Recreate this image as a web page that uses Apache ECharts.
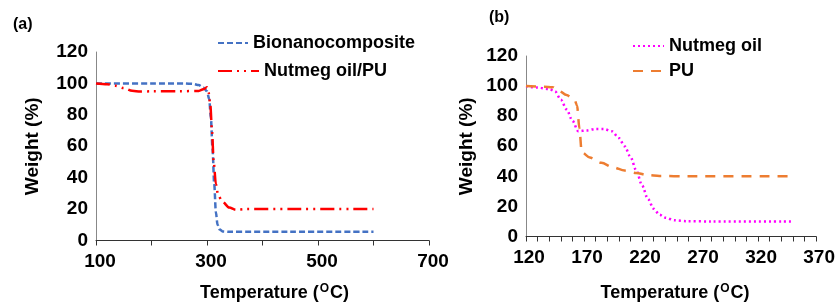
<!DOCTYPE html>
<html>
<head>
<meta charset="utf-8">
<script src="https://cdn.jsdelivr.net/npm/echarts@6/dist/echarts.min.js"></script>
<style>
  html, body { margin: 0; padding: 0; background: #fff; }
  #chart { width: 838px; height: 307px; }
</style>
</head>
<body>
<div id="chart"></div>
<script>
  // (a) TGA curves
  const bionano = [[100,100],[200,100],[260,100],[275,99.7],[285,99],[293,97.5],[300,95],[304,90],[307,78],[310,58],[313,36],[316,18],[319,10],[323,7],[328,5.8],[340,5.5],[450,5.5],[600,5.5]];
  const nutmegPU = [[100,100],[120,99.5],[135,98.5],[150,97],[165,95.3],[180,94.8],[200,95],[250,95],[285,95.2],[295,96.5],[300,97.5],[303,94],[306,86],[309,70],[312,50],[316,36],[320,29],[327,25],[340,21],[352,19.5],[370,20],[450,20],[600,20]];
  // (b) TGA curves
  const nutmegOil = [[120,100],[130,99],[140,98],[145,96.5],[150,91],[155,84.5],[160,77],[165,70],[172,70.5],[180,71.5],[187,71.5],[194,70],[200,65.5],[205,60],[210,53],[215,44],[220,34],[225,25],[230,18.5],[235,14.5],[240,12.5],[248,10.8],[258,10.2],[280,10],[350,10]];
  const pu = [[120,100],[135,99.6],[143,99.3],[148,97],[155,94],[162,90.5],[164,87],[166,72],[168,56],[175,52.5],[185,49],[195,46],[205,43.8],[215,42.2],[225,40.8],[235,40.2],[260,40],[350,40]];
  const yTicks = {min: 0, max: 120, interval: 20};

  const chart = echarts.init(document.getElementById('chart'));
  const bold = {fontFamily: 'Liberation Sans', fontWeight: 'bold', color: '#000'};
  const tempName = 'Temperature ({s|O}C)';
  const tempRich = {s: {fontFamily: 'Liberation Sans', fontWeight: 'bold', fontSize: 12, color: '#000', padding: [0, 1, 9, 1]}};

  function legendAt(name, left, top, w) {
    return {
      orient: 'vertical', left: left, top: top, itemWidth: w, itemHeight: 14, itemGap: 0, padding: 0,
      itemStyle: {opacity: 0},
      textStyle: Object.assign({fontSize: 18}, bold), data: [name]
    };
  }

  chart.setOption({
    animation: false,
    textStyle: {fontFamily: 'Liberation Sans'},
    grid: [
      {left: 96, top: 52, width: 333, height: 195},
      {left: 526, top: 56, width: 292, height: 183}
    ],
    graphic: [
      {type: 'text', left: 13, top: 17, style: {text: '(a)', fontSize: 16, fill: '#000', fontFamily: 'Liberation Sans', fontWeight: 'bold'}},
      {type: 'text', left: 489, top: 10, style: {text: '(b)', fontSize: 16, fill: '#000', fontFamily: 'Liberation Sans', fontWeight: 'bold'}}
    ],
    legend: [
      legendAt('Bionanocomposite', 217, 34, 30),
      legendAt('Nutmeg oil/PU', 217, 62, 41),
      legendAt('Nutmeg oil', 632, 37, 31),
      legendAt('PU', 632, 62, 31)
    ],
    xAxis: [
      {
        type: 'value', gridIndex: 0, min: 100, max: 700, interval: 100,
        axisLine: {lineStyle: {color: '#333', width: 1}},
        axisTick: {show: true, length: 5, lineStyle: {color: '#333'}},
        splitLine: {show: false},
        axisLabel: Object.assign({fontSize: 19, margin: 12, padding: [0, 0, 0, 8],
          formatter: v => ((v - 100) % 200 === 0 ? String(v) : '')}, bold),
        name: tempName, nameLocation: 'middle', nameGap: 42,
        nameTextStyle: Object.assign({fontSize: 18, padding: [0, 0, 0, 24], rich: tempRich}, bold)
      },
      {
        type: 'value', gridIndex: 1, min: 120, max: 370, interval: 10,
        axisLine: {lineStyle: {color: '#333', width: 1}},
        axisTick: {show: true, length: 5, lineStyle: {color: '#333'}},
        splitLine: {show: false},
        axisLabel: Object.assign({fontSize: 19, margin: 12, padding: [0, 0, 0, 6],
          formatter: v => ((v - 120) % 50 === 0 ? String(v) : '')}, bold),
        name: tempName, nameLocation: 'middle', nameGap: 46,
        nameTextStyle: Object.assign({fontSize: 18, padding: [0, 0, 0, 8], rich: tempRich}, bold)
      }
    ],
    yAxis: [
      Object.assign({
        type: 'value', gridIndex: 0,
        axisLine: {show: true, lineStyle: {color: '#888', width: 1}},
        axisTick: {show: false}, splitLine: {show: false},
        axisLabel: Object.assign({fontSize: 19, margin: 8}, bold),
        name: 'Weight (%)', nameLocation: 'middle', nameGap: 54,
        nameTextStyle: Object.assign({fontSize: 19}, bold)
      }, yTicks),
      Object.assign({
        type: 'value', gridIndex: 1,
        axisLine: {show: true, lineStyle: {color: '#888', width: 1}},
        axisTick: {show: false}, splitLine: {show: false},
        axisLabel: Object.assign({fontSize: 19, margin: 8}, bold),
        name: 'Weight (%)', nameLocation: 'middle', nameGap: 50,
        nameTextStyle: Object.assign({fontSize: 19}, bold)
      }, yTicks)
    ],
    series: [
      {
        name: 'Bionanocomposite', type: 'line', xAxisIndex: 0, yAxisIndex: 0,
        data: bionano, symbol: 'none', smooth: 0.3, smoothMonotone: 'x',
        lineStyle: {color: '#4472C4', width: 2.5, type: [6, 3]}, itemStyle: {color: '#4472C4'}
      },
      {
        name: 'Nutmeg oil/PU', type: 'line', xAxisIndex: 0, yAxisIndex: 0,
        data: nutmegPU, symbol: 'none', smooth: 0.3, smoothMonotone: 'x',
        lineStyle: {color: '#FF0000', width: 2.5, type: [14, 5, 2, 5, 2, 5]}, itemStyle: {color: '#FF0000'}
      },
      {
        name: 'Nutmeg oil', type: 'line', xAxisIndex: 1, yAxisIndex: 1,
        data: nutmegOil, symbol: 'none', smooth: 0.3, smoothMonotone: 'x',
        lineStyle: {color: '#FF00FF', width: 2.5, type: [2, 3]}, itemStyle: {color: '#FF00FF'}
      },
      {
        name: 'PU', type: 'line', xAxisIndex: 1, yAxisIndex: 1,
        data: pu, symbol: 'none', smooth: 0.3, smoothMonotone: 'x',
        lineStyle: {color: '#ED7D31', width: 2.5, type: [10, 8]}, itemStyle: {color: '#ED7D31'}
      }
    ]
  });
</script>
</body>
</html>
